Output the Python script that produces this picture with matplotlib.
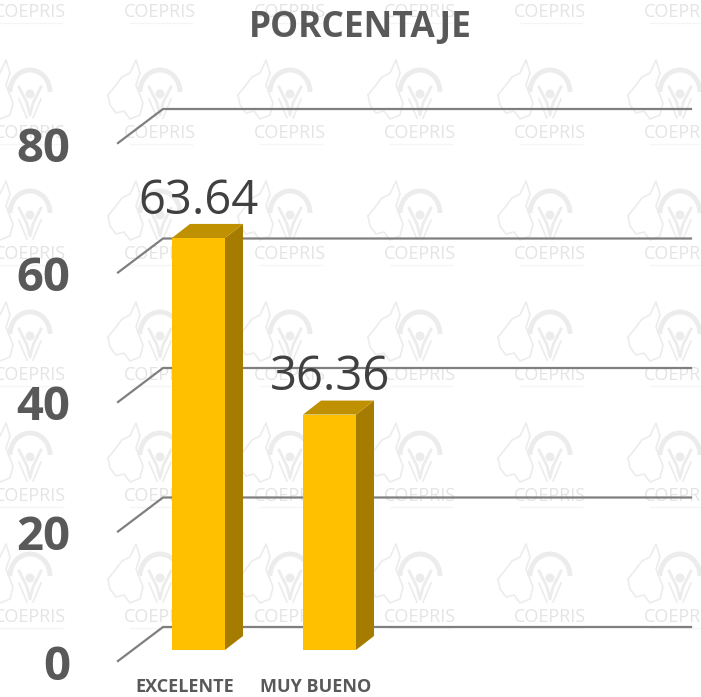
import matplotlib
matplotlib.use("Agg")
import matplotlib.pyplot as plt
from matplotlib.patches import Polygon, Arc, Circle
import numpy as np

categorias = ["EXCELENTE", "MUY BUENO"]
valores = [63.64, 36.36]
ticks = [0, 20, 40, 60, 80]
titulo = "PORCENTAJE"
marca = "COEPRIS"

plt.rcParams["font.family"] = ["Open Sans", "DejaVu Sans"]

fig = plt.figure(figsize=(7.01, 6.97), dpi=100)

# fondo con la marca de agua, en pixeles
bg = fig.add_axes([0, 0, 1, 1])
bg.set_xlim(0, 701)
bg.set_ylim(697, 0)
bg.axis("off")

gris = "#ececec"
mapa_x = np.array([-52, -44, -38, -30, -24, -20, -24, -17, -20, -30, -36, -44, -50, -52])
mapa_y = np.array([-38, -48, -56, -60, -73, -60, -48, -30, -18, -14, -22, -20, -28, -38])

for cx in np.arange(30, 720, 130):
    for cy in np.arange(12, 700, 121):
        bg.text(cx, cy, marca, color="#e4e4e4", fontsize=13, ha="center", va="center",
                family=["Liberation Sans Narrow", "Open Sans"])
        bg.plot([cx - 30, cx + 32], [cy + 11, cy + 11], color="#f5f5f5", lw=1)
        # emblema
        bg.add_patch(Arc((cx, cy - 41), 40, 44, theta1=180, theta2=360, color=gris, lw=3.5))
        bg.add_patch(Circle((cx, cy - 39), 4.5, color=gris, lw=0))
        bg.plot([cx - 11, cx - 3, cx, cx + 3, cx + 11], [cy - 46, cy - 30, cy - 18, cy - 30, cy - 46],
                color=gris, lw=2)
        bg.plot([cx - 11, cx - 6, cx - 3], [cy - 34, cy - 22, cy - 15], color=gris, lw=1.2)
        bg.plot([cx + 11, cx + 6, cx + 3], [cy - 34, cy - 22, cy - 15], color=gris, lw=1.2)
        bg.plot(cx + mapa_x, cy + mapa_y, color=gris, lw=1.2)

# ejes de la grafica, 1 unidad = 6.475 px en y, 131 px entre barras
ax = fig.add_axes([0, 0, 1, 1], facecolor="none")
ax.set_xlim(-198.5 / 131, (701 - 198.5) / 131)
ax.set_ylim((650 - 697) / 6.475, 650 / 6.475)
ax.axis("off")

px_x = 1 / 131
px_y = 1 / 6.475

# lineas de la reja en perspectiva
x_frente = (118 - 198.5) * px_x
x_fondo = (163 - 198.5) * px_x
x_fin = (691 - 198.5) * px_x
for t in ticks:
    ax.plot([x_frente, x_fondo, x_fin], [t - 11 * px_y, t + 23 * px_y, t + 23 * px_y],
            color="#7f7f7f", lw=1.6, zorder=1, solid_joinstyle="miter")
    ax.text(x_frente - 48 * px_x, t - 17 * px_y, str(t), color="#595959", fontsize=34,
            fontweight="bold", ha="right", va="center")

# barras
ancho = 53 * px_x
dx = 18 * px_x
dy = 14 * px_y
pos = np.arange(len(valores))
ax.bar(pos, valores, width=ancho, color="#ffc000", zorder=3, linewidth=0)
for p, v in zip(pos, valores):
    der = p + ancho / 2
    izq = p - ancho / 2
    ax.add_patch(Polygon([[der, 0], [der + dx, dy], [der + dx, v + dy], [der, v]],
                         facecolor="#a67c00", lw=0, zorder=3))
    ax.add_patch(Polygon([[izq, v], [izq + dx, v + dy], [der + dx, v + dy], [der, v]],
                         facecolor="#bf9000", lw=0, zorder=3))
    ax.text(p, v + 37 * px_y, f"{v:.2f}", color="#404040", fontsize=34, ha="center", va="center", zorder=4)

for p, c in zip(pos, categorias):
    ax.text(p - 14 * px_x, -36.5 * px_y, c, color="#595959", fontsize=13,
            fontweight="bold", ha="center", va="center", zorder=4)

fig.text(360 / 701, 1 - 28 / 697, titulo, color="#595959", fontsize=25.5, fontweight="bold",
         ha="center", va="center")

fig.savefig("out.png", dpi=100)
